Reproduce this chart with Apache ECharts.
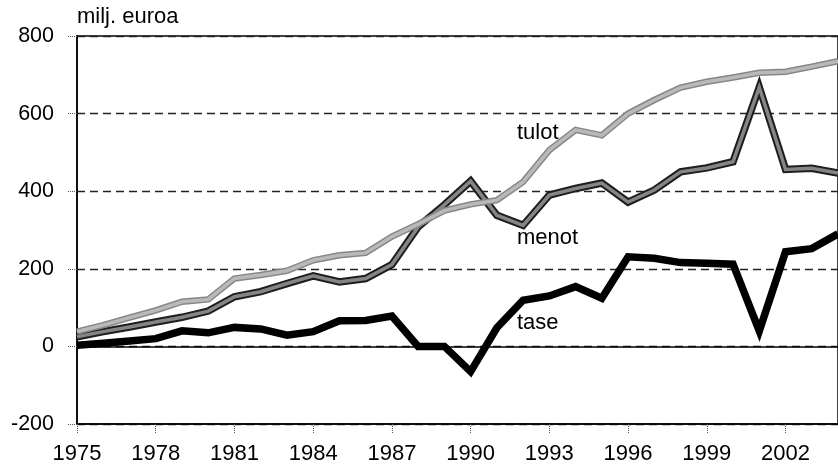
<!DOCTYPE html>
<html lang="fi">
<head>
    <meta charset="utf-8">
    <title>Tulot, menot ja tase</title>
    <script src="https://cdn.jsdelivr.net/npm/echarts@6/dist/echarts.min.js"></script>
    <style>
        html, body { margin: 0; padding: 0; background: #fff; }
        #main { width: 838px; height: 465px; }
    </style>
</head>
<body>
<div id="main"></div>
<script type="text/javascript">
    // vuodet 1975-2004 (viimeinen vuosi jää kuvan reunan yli)
    var years = [];
    for (var y = 1975; y <= 2004; y++) years.push(String(y));

    // milj. euroa, luettu kuvasta
    var tulot = [38, 55, 74, 93, 115, 121, 175, 184, 195, 222, 235, 241, 283, 315, 350,
                 366, 377, 424, 506, 558, 544, 600, 635, 667, 682, 693, 705, 708, 721, 735];
    var menot = [25, 38, 50, 63, 75, 91, 128, 141, 162, 182, 166, 175, 211, 308, 365,
                 426, 338, 312, 390, 407, 421, 372, 403, 450, 460, 476, 668, 456, 459, 447];
    var tase = [3, 8, 14, 20, 40, 35, 49, 45, 29, 38, 66, 67, 78, 0, 0,
                -65, 48, 119, 130, 154, 124, 231, 227, 216, 214, 212, 40, 244, 252, 290];

    var yTicks = [-200, 0, 200, 400, 600, 800];

    var font = 'Liberation Sans, Arial, sans-serif';
    var myChart = echarts.init(document.getElementById('main'));

    myChart.setOption({
        animation: false,
        grid: {
            left: 77, right: -11, top: 36, bottom: 41,
            show: true, borderColor: '#000', borderWidth: 1.5
        },
        xAxis: {
            type: 'category',
            data: years,
            boundaryGap: false,
            axisLine: { onZero: false, lineStyle: { color: '#000', width: 1.5 } },
            axisTick: { interval: 2, length: 10, lineStyle: { color: '#555', type: 'dotted' } },
            axisLabel: { interval: 2, margin: 19, color: '#000', fontSize: 22, fontFamily: font },
            splitLine: { show: false }
        },
        yAxis: {
            type: 'value',
            min: yTicks[0],
            max: yTicks[yTicks.length - 1],
            interval: 200,
            axisLine: { show: true, lineStyle: { color: '#000', width: 1.5 } },
            axisTick: { show: true, length: 10, lineStyle: { color: '#555', type: 'dotted' } },
            axisLabel: { margin: 23, color: '#000', fontSize: 21.5, fontFamily: font },
            splitLine: { show: true, lineStyle: { color: '#222', width: 1.3, type: [8, 5] } }
        },
        graphic: [
            { type: 'text', left: 77, top: 6, style: { text: 'milj. euroa', font: '22px ' + font, fill: '#000' } },
            { type: 'text', x: 517, y: 133, style: { text: 'tulot', font: '22px ' + font, fill: '#000', verticalAlign: 'middle' } },
            { type: 'text', x: 517, y: 238, style: { text: 'menot', font: '22px ' + font, fill: '#000', verticalAlign: 'middle' } },
            { type: 'text', x: 517, y: 323, style: { text: 'tase', font: '22px ' + font, fill: '#000', verticalAlign: 'middle' } }
        ],
        series: [{
            name: 'menot',
            type: 'line',
            data: menot,
            symbol: 'none',
            lineStyle: { color: '#1e1e1e', width: 7.5, join: 'miter' },
            z: 2
        }, {
            name: 'menot_sisus',
            type: 'line',
            data: menot,
            symbol: 'none',
            lineStyle: { color: '#858585', width: 3.5, join: 'miter' },
            z: 3
        }, {
            name: 'tulot',
            type: 'line',
            data: tulot,
            symbol: 'none',
            lineStyle: { color: '#878787', width: 6.5, join: 'miter' },
            z: 4
        }, {
            name: 'tulot_sisus',
            type: 'line',
            data: tulot,
            symbol: 'none',
            lineStyle: { color: '#b9b9b9', width: 3.5, join: 'miter' },
            z: 5
        }, {
            name: 'tase',
            type: 'line',
            data: tase,
            symbol: 'none',
            lineStyle: { color: '#000', width: 7.5, join: 'miter' },
            z: 6,
            markLine: {
                silent: true,
                symbol: 'none',
                label: { show: false },
                lineStyle: { color: '#000', width: 1.5, type: 'solid' },
                data: [{ yAxis: 0 }]
            }
        }]
    });
</script>
</body>
</html>
